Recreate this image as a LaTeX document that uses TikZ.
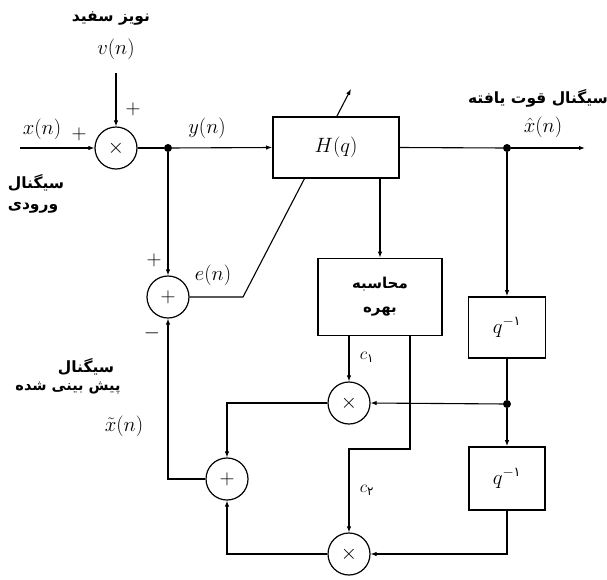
\documentclass[tikz,border=0pt]{standalone}
\usepackage{fontspec}
\newfontfamily\arabicfont[Script=Arabic]{DejaVu Sans}
\TeXXeTstate=1
\usetikzlibrary{arrows.meta,calc}
\tikzset{
  lbl/.style={font=\fontsize{21}{25}\selectfont, inner sep=0pt},
  fa/.style={font=\arabicfont\bfseries\fontsize{15.5}{18}\selectfont, inner sep=0pt},
  blk/.style={draw, line width=1.8pt, fill=white, inner sep=0pt, font=\fontsize{21}{25}\selectfont},
  op/.style={draw, circle, line width=1.2pt, minimum size=42pt, inner sep=0pt, fill=white, font=\fontsize{20}{24}\selectfont},
  arr/.style={-{Latex[length=6pt,width=4.5pt]}},
  dotn/.style={circle, fill, inner sep=0pt, minimum size=8pt},
  wire/.style={line width=1.1pt},
}
\begin{document}
\begin{tikzpicture}[x=1pt,y=1pt]
\useasboundingbox (0,0) rectangle (607,-579);
% operators
\node[op] (mul0) at (116,-148) {$\times$};
\node[op] (sum1) at (168,-297) {$+$};
\node[op] (mul1) at (349,-403) {$\times$};
\node[op] (mul2) at (349,-554) {$\times$};
\node[op] (sum2) at (227,-479) {$+$};
% dots and free ends
\node[dotn] (d1) at (168,-148) {};
\node[dotn] (d2) at (507,-148) {};
\node[dotn] (d3) at (507,-404) {};
\coordinate (in) at (20,-148);
\coordinate (vtop) at (116,-73);
\coordinate (out) at (585,-148);
\coordinate (ek) at (243,-297);
\coordinate (tip) at (351,-89);
\coordinate (k2) at (410,-449);
% diagonal adaptation arrow (under H box)
\draw[wire,arr] (sum1.east) -- (ek) -- (tip);
% blocks
\node[blk, minimum width=126pt, minimum height=61pt] (H) at (336,-147.5) {$H(q)$};
\node[blk, minimum width=124pt, minimum height=77pt, align=center] (gain) at (380,-297)
  {\arabicfont\bfseries\fontsize{15}{18}\selectfont\beginR محاسبه\endR\\[-1pt]\arabicfont\bfseries\fontsize{15}{18}\selectfont\beginR بهره\endR};
\node[blk, minimum width=77pt, minimum height=61pt] (q1) at (507,-327.5)
  {$q^{-\hbox{\arabicfont\fontsize{13}{13}\selectfont ۱}}$};
\node[blk, minimum width=76pt, minimum height=63pt] (q2) at (507,-478.5)
  {$q^{-\hbox{\arabicfont\fontsize{13}{13}\selectfont ۱}}$};
\coordinate (g1) at (mul1.north |- gain.south);
\coordinate (g2) at (k2 |- gain.south);
\coordinate (hb) at (gain.north |- H.south);
% connectors
\draw[wire,arr] (in) -- (mul0.west);
\draw[wire,arr] (vtop) -- (mul0.north);
\draw[wire] (mul0.east) -- (d1);
\draw[wire,arr] (d1) -- (H.west);
\draw[wire,arr] (d1) -- (sum1.north);
\draw[wire] (H.east) -- (d2);
\draw[wire,arr] (d2) -- (out);
\draw[wire,arr] (hb) -- (gain.north);
\draw[wire,arr] (d2) -- (q1.north);
\draw[wire] (q1.south) -- (d3);
\draw[wire,arr] (d3) -- (q2.north);
\draw[wire,arr] (d3) -- (mul1.east);
\draw[wire,arr] (q2.south) |- (mul2.east);
\draw[wire,arr] (g1) -- (mul1.north);
\draw[wire,arr] (g2) -- (k2) -| (mul2.north);
\draw[wire,arr] (mul1.west) -| (sum2.north);
\draw[wire,arr] (mul2.west) -| (sum2.south);
\draw[wire,arr] (sum2.west) -| (sum1.south);
% labels
\node[fa] (tnoise) at (111,-19) {\beginR نویز سفید\endR};
\node[lbl] (tv) at (116,-49) {$v(n)$};
\node[lbl] (pv) at (133,-109) {$+$};
\node[lbl] (tx) at (42,-129) {$x(n)$};
\node[lbl] (px) at (79,-134) {$+$};
\node[lbl] (ty) at (207,-128) {$y(n)$};
\node[fa] (tin1) at (36,-183) {\beginR سیگنال\endR};
\node[fa] (tin2) at (33,-208) {\beginR ورودی\endR};
\node[fa] (tout) at (538,-98) {\beginR سیگنال قوت یافته\endR};
\node[lbl] (txh) at (543,-127) {$\hat{x}(n)$};
\node[lbl] (te) at (213,-275) {$e(n)$};
\node[lbl] (ps1) at (154,-260) {$+$};
\node[lbl] (ms1) at (152,-333) {$-$};
\node[font=\fontsize{18}{20}\selectfont, inner sep=0pt] (tc1) at (367,-357) {$c_{\hbox{\arabicfont\fontsize{12}{12}\selectfont ۱}}$};
\node[font=\fontsize{18}{20}\selectfont, inner sep=0pt] (tc2) at (367,-490) {$c_{\hbox{\arabicfont\fontsize{12}{12}\selectfont ۲}}$};
\node[fa] (tp1) at (86,-367) {\beginR سیگنال\endR};
\node[fa, font=\arabicfont\bfseries\fontsize{14.5}{17}\selectfont] (tp2) at (68,-388) {\beginR پیش بینی شده\endR};
\node[lbl] (txt) at (124,-426) {$\tilde{x}(n)$};
\end{tikzpicture}
\end{document}
